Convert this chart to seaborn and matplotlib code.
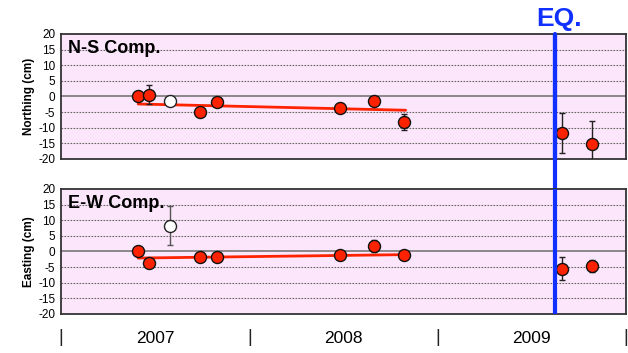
import numpy as np
import pandas as pd
import matplotlib
matplotlib.use("Agg")
import matplotlib.pyplot as plt
import seaborn as sns

# N-S component (cm)
ns_time = [2007.41, 2007.47, 2007.74, 2007.83, 2008.48, 2008.66, 2008.82, 2009.66, 2009.82]
ns_val = [0.0, 0.6, -4.9, -1.8, -3.7, -1.4, -8.1, -11.7, -15.3]
ns_err = [1.5, 3.0, 1.0, 1.0, 1.0, 1.0, 2.5, 6.3, 7.5]
ns_out_time = [2007.58]
ns_out_val = [-1.5]
ns_fit_time = [2007.41, 2008.83]
ns_fit_val = [-2.4, -4.4]

# E-W component (cm)
ew_time = [2007.41, 2007.47, 2007.74, 2007.83, 2008.48, 2008.66, 2008.82, 2009.66, 2009.82]
ew_val = [0.0, -3.7, -1.8, -1.8, -1.0, 1.7, -1.0, -5.5, -4.7]
ew_err = [1.0, 1.0, 1.0, 1.0, 1.0, 2.0, 1.0, 3.7, 2.0]
ew_out_time = [2007.58]
ew_out_val = [8.3]
ew_out_err = [6.2]
ew_fit_time = [2007.41, 2008.83]
ew_fit_val = [-2.1, -1.0]

eq_time = 2009.62
years = [2007, 2008, 2009]

sns.set_theme(style="white")
plt.rcParams["font.family"] = ["Liberation Sans", "DejaVu Sans"]
plt.rcParams["text.color"] = "black"
plt.rcParams["axes.labelcolor"] = "black"
plt.rcParams["xtick.color"] = "black"
plt.rcParams["ytick.color"] = "black"

fig = plt.figure(figsize=(6.28, 3.53), dpi=100)
ax1 = fig.add_axes([0.097, 0.5496, 0.90, 0.3541])
ax2 = fig.add_axes([0.097, 0.1105, 0.90, 0.3541])

red = "#ff2200"
panels = [
    (ax1, ns_time, ns_val, ns_err, ns_out_time, ns_out_val, None, ns_fit_time, ns_fit_val,
     "N-S Comp.", "Northing (cm)"),
    (ax2, ew_time, ew_val, ew_err, ew_out_time, ew_out_val, ew_out_err, ew_fit_time, ew_fit_val,
     "E-W Comp.", "Easting (cm)"),
]

for ax, t, v, e, ot, ov, oe, ft, fv, title, ylab in panels:
    ax.set_facecolor("#fce6fb")
    for s in ax.spines.values():
        s.set_color("#333333")
        s.set_linewidth(1.3)
    for yv in range(-15, 20, 5):
        if yv == 0:
            ax.axhline(0, color="#777777", lw=1.2, zorder=1)
        else:
            ax.axhline(yv, color="#666666", lw=0.8, ls=(0, (1.5, 1.2)), zorder=1)
    sns.lineplot(x=ft, y=fv, ax=ax, color=red, lw=2, zorder=3)
    ax.errorbar(t, v, yerr=e, fmt="none", ecolor="#222222", elinewidth=1, capsize=2, zorder=4)
    if oe is not None:
        ax.errorbar(ot, ov, yerr=oe, fmt="none", ecolor="#555555", elinewidth=1, capsize=2, zorder=4)
    sns.scatterplot(x=t, y=v, ax=ax, color=red, edgecolor="#111111", linewidth=1, s=75, zorder=5)
    sns.scatterplot(x=ot, y=ov, ax=ax, color="white", edgecolor="#222222", linewidth=1, s=75, zorder=5)
    ax.axvline(eq_time, color="#1030ff", lw=3, zorder=6)
    ax.set_xlim(2007, 2010)
    ax.set_ylim(-20, 20)
    ax.set_yticks(range(-20, 25, 5))
    ax.set_yticklabels([str(y) for y in range(-20, 25, 5)], fontsize=8.5)
    ax.set_xticks(np.arange(2007.25, 2010, 0.25))
    ax.set_xticklabels([])
    ax.tick_params(axis="x", direction="inout", length=7, width=0.8, color="#444444")
    ax.tick_params(axis="y", direction="out", length=3, width=0.8, color="#444444", pad=1)
    ax.set_ylabel(ylab, fontsize=8.5, fontweight="bold", labelpad=2)
    ax.set_xlabel("")
    ax.text(0.012, 0.95, title, transform=ax.transAxes, fontsize=13,
            fontweight="bold", va="top", ha="left", color="black")

# EQ line through gap and label
ax1.axvline(eq_time, ymin=-0.3, ymax=1, color="#1030ff", lw=3, clip_on=False, zorder=6)
ax1.text(eq_time + 0.025, 1.02, "EQ.", transform=ax1.get_xaxis_transform(), color="#1030ff",
         fontsize=19, fontweight="bold", ha="center", va="bottom")

# year labels under bottom panel
tr = ax2.get_xaxis_transform()
for y in years:
    ax2.text(y + 0.5, -0.135, str(y), transform=tr, fontsize=12.5, ha="center", va="top",
             color="black")
for y in years + [2010]:
    ax2.text(y, -0.12, "|", transform=tr, fontsize=13, ha="center", va="top", color="#222222")

fig.savefig("out.png", dpi=100)
